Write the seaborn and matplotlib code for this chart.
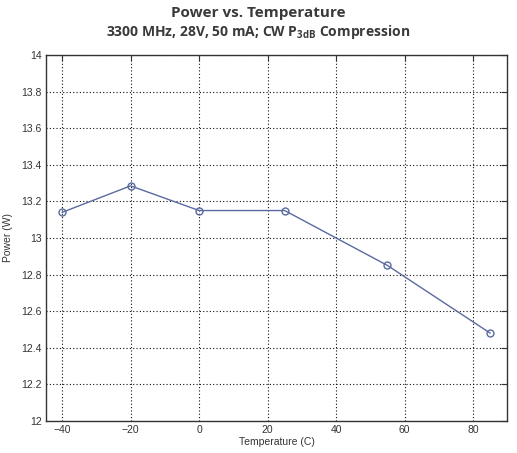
import matplotlib
matplotlib.use("Agg")
import matplotlib.pyplot as plt
import seaborn as sns
import pandas as pd

temps = [-40, -20, 0, 25, 55, 85]
power = [13.14, 13.285, 13.15, 13.15, 12.85, 12.48]
xticks = [-40, -20, 0, 20, 40, 60, 80]
yticks = [12, 12.2, 12.4, 12.6, 12.8, 13, 13.2, 13.4, 13.6, 13.8, 14]
ytick_labels = ["12", "12.2", "12.4", "12.6", "12.8", "13", "13.2", "13.4", "13.6", "13.8", "14"]
xtick_labels = ["\u221240", "\u221220", "0", "20", "40", "60", "80"]

sns.set_style("white")
plt.rcParams['font.family'] = ['Liberation Sans', 'DejaVu Sans']

df = pd.DataFrame({"Temperature": temps, "Power": power})

fig = plt.figure(figsize=(5.17, 4.53), dpi=100)
ax = fig.add_axes([46/517, 1 - 421/453, (507-46)/517, (421-55)/453])

sns.lineplot(data=df, x="Temperature", y="Power", ax=ax, color="#5a6aa0",
             linewidth=1.0, marker="o", markersize=5, markerfacecolor="none",
             markeredgecolor="#5a6aa0", markeredgewidth=1.0)

ax.set_xlim(-44.7, 89.9)
ax.set_ylim(12, 14)
ax.set_xticks(xticks)
ax.set_xticklabels(xtick_labels)
ax.set_yticks(yticks)
ax.set_yticklabels(ytick_labels)
ax.grid(True, linestyle=(0, (1.0, 2.0)), color="#111111", linewidth=0.8)
ax.tick_params(direction="in", length=4, width=0.8, top=True, right=True,
               labelsize=7.5, colors="#333333", pad=3)
for s in ax.spines.values():
    s.set_color("#333333")
    s.set_linewidth(1.0)
ax.set_xlabel("Temperature (C)", fontsize=7.5, labelpad=1, color="#333333")
ax.set_ylabel("Power (W)", fontsize=7.5, labelpad=6, color="#333333")

fig.text(0.5, 1 - 13/453, "Power vs. Temperature", ha="center", va="center",
         fontsize=11, fontweight="bold", color="#3a3a3a", family=["Open Sans", "DejaVu Sans"])
fig.text(0.5, 1 - 32/453, r"3300 MHz, 28V, 50 mA; CW P$_{\mathregular{3dB}}$ Compression",
         ha="center", va="center", fontsize=10, fontweight="bold", color="#3a3a3a",
         family=["Open Sans", "DejaVu Sans"])

fig.savefig("out.png", dpi=100)
